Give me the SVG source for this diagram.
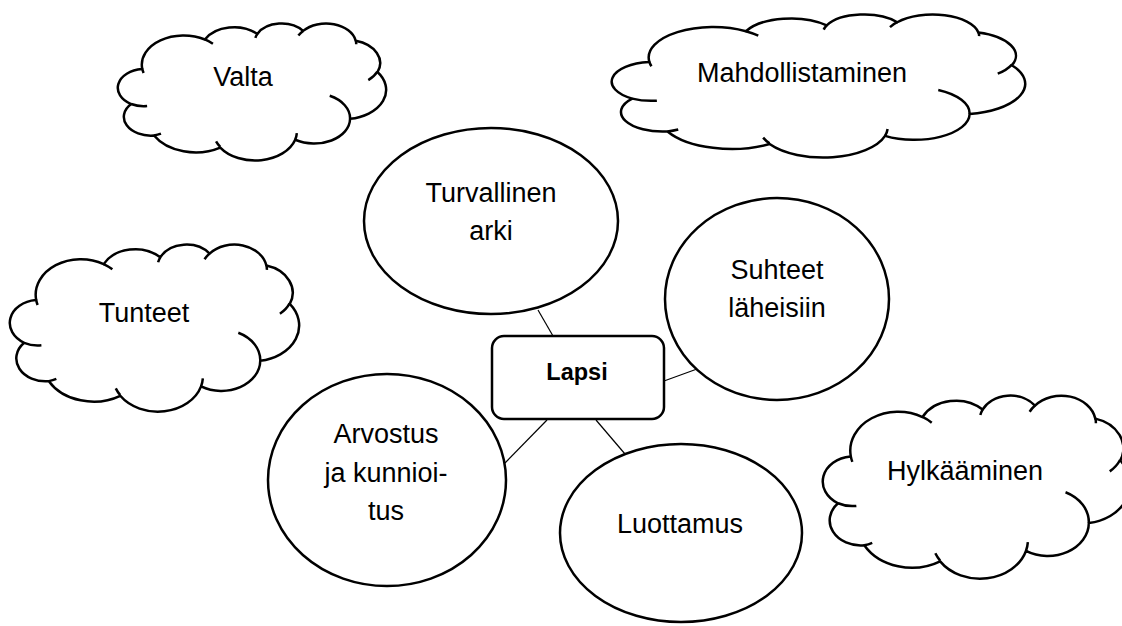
<svg xmlns="http://www.w3.org/2000/svg" xmlns:xlink="http://www.w3.org/1999/xlink" width="1122" height="626" viewBox="0 0 1122 626">
  <style>
    .shape { fill: #ffffff; stroke: #000000; stroke-width: 2.5; }
    .cloud-outline { fill: #ffffff; stroke: #000000; stroke-width: 2.5; vector-effect: non-scaling-stroke; stroke-linejoin: round; }
    .cloud-fold { fill: none; stroke: #000000; stroke-width: 2.5; vector-effect: non-scaling-stroke; stroke-linecap: butt; }
    .conn { stroke: #000000; stroke-width: 1.2; fill: none; }
    .lbl { font-family: "Liberation Sans", Arial, sans-serif; font-size: 27px; fill: #000000; text-anchor: middle; }
    .bold { font-weight: bold; font-size: 23.5px; }
  </style>
  <defs>
    <g id="cloud">
      <path class="cloud-outline" d="M3900,14370 A6753,9190 0 0 1 14006,5203 A5333,7267 0 0 1 22460,3438 A4365,5945 0 0 1 29837,2487 A4857,6595 0 0 1 38322,5582 A5333,7273 0 0 1 41823,15466 A6775,9220 0 0 1 37408,30207 A5785,7867 0 0 1 28560,36818 A6752,9215 0 0 1 16485,39272 A7720,10543 0 0 1 5808,35477 A4360,5918 0 0 1 2117,25556 A4345,5945 0 0 1 3868,14512 Z"/>
      <path class="cloud-fold" d="M4693,26177 A4345,5945 0 0 1 2117,25556 M6928,34899 A4360,5918 0 0 1 5808,35477 M16478,39090 A6752,9215 0 0 1 15809,37348 M28827,34751 A6752,9215 0 0 1 28560,36818 M34129,22954 A5785,7867 0 0 1 37408,30207 M41798,15354 A5333,7273 0 0 1 40349,18031 M38324,5426 A4857,6595 0 0 1 38400,6690 M29078,3952 A4857,6595 0 0 1 29837,2487 M22141,4720 A4365,5945 0 0 1 22460,3438 M14000,5192 A6753,9190 0 0 1 15300,6541 M4127,15789 A6753,9190 0 0 1 3900,14370"/>
    </g>
  </defs>

  <g id="connectors">
    <line class="conn" x1="538" y1="310" x2="553" y2="336"/>
    <line class="conn" x1="664" y1="381" x2="697" y2="369"/>
    <line class="conn" x1="547" y1="420" x2="505" y2="463"/>
    <line class="conn" x1="596" y1="420" x2="625" y2="454"/>
  </g>

  <g id="cloud-valta">
    <use xlink:href="#cloud" href="#cloud" transform="translate(118,23) scale(0.0062037,0.0031713)"/>
    <text class="lbl" x="243" y="86">Valta</text>
  </g>

  <g id="cloud-mahdollistaminen">
    <use xlink:href="#cloud" href="#cloud" transform="translate(612,14) scale(0.0095602,0.0033102)"/>
    <text class="lbl" x="802" y="82">Mahdollistaminen</text>
  </g>

  <g id="cloud-tunteet">
    <use xlink:href="#cloud" href="#cloud" transform="translate(10,244) scale(0.0066898,0.0038657)"/>
    <text class="lbl" x="144" y="322">Tunteet</text>
  </g>

  <g id="cloud-hylkaaminen">
    <use xlink:href="#cloud" href="#cloud" transform="translate(823,395) scale(0.0071065,0.0042361)"/>
    <text class="lbl" x="965" y="480">Hylkääminen</text>
  </g>

  <g id="node-turvallinen">
    <ellipse class="shape" cx="491" cy="221" rx="127" ry="93"/>
    <text class="lbl" x="491" y="202">Turvallinen</text>
    <text class="lbl" x="491" y="240">arki</text>
  </g>

  <g id="node-suhteet">
    <ellipse class="shape" cx="777" cy="299" rx="112" ry="101"/>
    <text class="lbl" x="777" y="279">Suhteet</text>
    <text class="lbl" x="777" y="317">läheisiin</text>
  </g>

  <g id="node-arvostus">
    <ellipse class="shape" cx="387" cy="480" rx="119" ry="106"/>
    <text class="lbl" x="386" y="443">Arvostus</text>
    <text class="lbl" x="386" y="482">ja kunnioi-</text>
    <text class="lbl" x="386" y="520">tus</text>
  </g>

  <g id="node-luottamus">
    <ellipse class="shape" cx="681" cy="533" rx="121" ry="89"/>
    <text class="lbl" x="680" y="533">Luottamus</text>
  </g>

  <g id="node-lapsi">
    <rect class="shape" x="492" y="336" width="172" height="83" rx="12" ry="12"/>
    <text class="lbl bold" x="577" y="380">Lapsi</text>
  </g>
</svg>
